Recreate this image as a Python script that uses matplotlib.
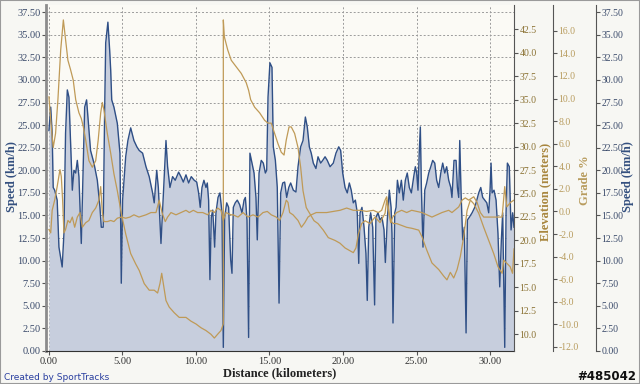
import numpy as np
import matplotlib
matplotlib.use('Agg')
import matplotlib.pyplot as plt
from matplotlib.patches import Rectangle

# speed (km/h) against distance (km)
speed_km = [0.00, 0.12, 0.22, 0.29, 0.39, 0.56, 0.68, 0.90, 1.02, 1.13, 1.25, 1.36, 1.47, 1.59, 1.70,
            1.82, 1.93, 2.04, 2.20, 2.34, 2.43, 2.56, 2.65, 2.83, 3.06, 3.29, 3.47, 3.56, 3.69, 3.79,
            3.86, 4.01, 4.13, 4.20, 4.27, 4.42, 4.65, 4.83, 4.92, 5.01, 5.22, 5.37, 5.56, 5.78, 5.98,
            6.14, 6.37, 6.60, 6.82, 7.05, 7.16, 7.33, 7.44, 7.62, 7.74, 7.85, 7.96, 8.07, 8.23, 8.41,
            8.59, 8.82, 8.98, 9.14, 9.32, 9.50, 9.68, 9.88, 10.05, 10.18, 10.29, 10.41, 10.54, 10.68,
            10.77, 10.86, 10.95, 11.04, 11.14, 11.27, 11.36, 11.50, 11.63, 11.77, 11.86, 11.95, 12.09,
            12.22, 12.36, 12.45, 12.54, 12.67, 12.81, 12.97, 13.13, 13.27, 13.36, 13.47, 13.58, 13.67,
            13.81, 13.95, 14.08, 14.17, 14.29, 14.44, 14.58, 14.72, 14.81, 14.90, 15.03, 15.17, 15.26,
            15.40, 15.53, 15.65, 15.76, 15.90, 16.03, 16.17, 16.31, 16.44, 16.62, 16.80, 16.94, 17.12,
            17.28, 17.44, 17.57, 17.71, 17.84, 17.98, 18.16, 18.30, 18.48, 18.62, 18.78, 18.93, 19.12,
            19.34, 19.52, 19.71, 19.84, 19.98, 20.14, 20.29, 20.43, 20.56, 20.70, 20.84, 20.97, 21.07,
            21.16, 21.29, 21.43, 21.56, 21.65, 21.75, 21.88, 22.02, 22.15, 22.24, 22.38, 22.52, 22.65,
            22.79, 22.88, 23.01, 23.15, 23.27, 23.33, 23.40, 23.52, 23.61, 23.70, 23.83, 23.97, 24.10,
            24.24, 24.37, 24.51, 24.65, 24.81, 24.92, 25.01, 25.10, 25.19, 25.26, 25.33, 25.44, 25.56,
            25.69, 25.83, 25.97, 26.10, 26.24, 26.37, 26.51, 26.65, 26.78, 26.92, 27.05, 27.19, 27.33,
            27.41, 27.55, 27.69, 27.78, 27.87, 27.94, 28.03, 28.14, 28.25, 28.37, 28.46, 28.59, 28.78,
            28.96, 29.10, 29.23, 29.37, 29.50, 29.64, 29.78, 29.91, 30.00, 30.07, 30.14, 30.27, 30.41,
            30.54, 30.66, 30.77, 30.86, 31.00, 31.09, 31.18, 31.31, 31.43, 31.54, 31.63]
speed = [24.4, 27.0, 24.1, 18.1, 17.8, 16.7, 11.5, 9.3, 13.0, 24.1, 28.9, 28.1, 23.3, 17.8, 20.0,
         19.7, 21.1, 19.3, 11.9, 21.1, 27.0, 27.8, 25.9, 22.2, 20.8, 18.9, 15.9, 13.7, 13.7, 26.7,
         34.1, 36.4, 33.3, 31.1, 27.8, 27.0, 25.2, 21.9, 7.5, 16.7, 21.5, 23.3, 24.7, 23.3, 22.6,
         22.2, 21.9, 20.4, 19.3, 17.5, 16.4, 20.0, 18.1, 11.9, 15.9, 19.7, 23.3, 20.4, 18.1, 19.3,
         18.9, 19.8, 19.3, 18.7, 19.5, 18.6, 19.3, 18.9, 18.7, 17.5, 15.9, 18.1, 18.9, 18.1,
         18.6, 16.7, 7.9, 14.8, 15.6, 11.5, 15.3, 17.0, 17.5, 15.3, 0.4, 14.8, 16.4,
         15.9, 10.1, 8.6, 15.9, 16.4, 16.7, 16.2, 15.3, 16.7, 17.0, 14.5, 1.5, 21.9,
         20.8, 19.7, 17.0, 12.3, 19.7, 21.1, 20.8, 19.7, 20.0, 28.1, 31.9, 31.4, 22.6,
         21.1, 18.1, 5.3, 17.5, 18.6, 18.7, 17.0, 18.1, 18.6, 17.8, 17.6, 20.4, 22.6,
         23.3, 25.9, 24.8, 22.6, 21.9, 20.8, 20.2, 21.5, 20.8, 21.1, 21.5, 21.1, 20.4,
         20.8, 21.9, 22.6, 22.2, 19.7, 18.1, 17.5, 18.6, 17.8, 16.4, 16.7, 15.3, 9.7,
         15.3, 15.9, 13.7, 10.8, 5.6, 13.7, 15.3, 13.7, 5.1, 14.8, 15.3, 14.5, 14.8,
         13.4, 9.8, 14.5, 17.8, 15.9, 13.0, 3.1, 15.3, 15.9, 18.9, 17.5, 18.9, 16.7,
         18.9, 19.7, 18.1, 17.5, 19.3, 20.4, 19.7, 17.8, 22.2, 24.8, 18.1, 11.5, 17.8,
         18.6, 19.7, 20.4, 21.1, 20.8, 18.9, 18.1, 19.7, 20.8, 19.7, 20.4, 18.9, 18.1,
         17.0, 21.1, 21.1, 18.1, 17.0, 23.3, 17.5, 12.3, 13.7, 2.0, 14.5, 14.8, 15.3,
         15.9, 16.7, 17.5, 18.1, 17.0, 16.7, 16.4, 15.3, 17.8, 20.8, 17.5, 17.8, 16.7,
         13.0, 7.1, 12.3, 15.3, 0.4, 15.3, 20.8, 20.4, 13.4, 15.3, 13.7]

# elevation (meters)
elev_km = [0.00, 0.16, 0.29, 0.45, 0.61, 0.80, 0.98, 1.13, 1.29, 1.47, 1.65, 1.82, 2.04, 2.20, 2.34,
           2.50, 2.72, 2.95, 3.18, 3.35, 3.52, 3.63, 3.74, 3.97, 4.20, 4.42, 4.65, 4.92, 5.22, 5.56,
           5.90, 6.14, 6.48, 6.82, 7.16, 7.39, 7.55, 7.67, 7.78, 7.96, 8.18, 8.52, 8.86, 9.32, 9.66,
           10.00, 10.34, 10.68, 11.02, 11.25, 11.47, 11.70, 11.86, 11.86, 11.93, 12.16, 12.40, 12.74,
           13.08, 13.42, 13.58, 13.72, 13.99, 14.33, 14.67, 14.90, 15.12, 15.35, 15.58, 15.80, 15.99,
           16.14, 16.33, 16.48, 16.71, 16.94, 17.12, 17.28, 17.50, 17.73, 18.03, 18.30, 18.66, 19.00,
           19.46, 19.80, 20.14, 20.48, 20.70, 20.88, 21.05, 21.27, 21.50, 21.84, 22.18, 22.52, 22.86,
           22.97, 23.08, 23.24, 23.42, 23.65, 23.99, 24.33, 24.67, 25.15, 25.37, 25.69, 26.05, 26.51,
           26.85, 27.07, 27.30, 27.53, 27.76, 27.98, 28.21, 28.44, 28.66, 28.90, 29.23, 29.57, 29.91,
           30.25, 30.54, 30.82, 30.93, 31.37, 31.53, 31.63]
elevation = [35.3, 32.1, 29.9, 31.4, 35.0, 40.3, 43.5, 41.4, 39.2, 38.2, 37.1, 35.0, 33.6, 33.0, 32.1,
             30.7, 28.5, 27.8, 28.5, 30.7, 33.6, 34.7, 33.9, 31.4, 29.3, 27.1, 25.3, 22.9, 20.7, 18.6,
             17.5, 16.8, 15.4, 14.7, 14.7, 14.4, 15.4, 16.5, 15.4, 13.6, 12.9, 12.3, 11.8, 11.8, 11.4,
             11.1, 10.7, 10.4, 10.0, 9.6, 10.0, 10.4, 11.1, 43.5, 41.7, 40.3, 39.2, 38.5,
             37.8, 36.8, 36.0, 35.0, 34.2, 33.6, 32.8, 32.5, 32.5, 31.4, 30.3, 29.4, 29.1,
             30.7, 32.1, 32.1, 31.4, 29.9, 27.8, 25.3, 23.5, 22.9, 22.1, 21.8, 21.1, 20.3,
             20.0, 19.7, 19.2, 18.9, 18.7, 19.2, 20.7, 21.8, 22.1, 21.8, 22.5, 21.9, 22.9,
             24.3, 23.2, 22.1, 21.8, 21.8, 21.6, 21.4, 21.3, 21.1, 20.4, 19.0, 17.6, 16.9,
             16.2, 15.8, 16.6, 16.0, 16.9, 18.3, 20.4, 23.2, 24.3, 23.9, 22.9, 21.4, 20.0,
             18.6, 17.2, 16.5, 17.9, 17.2, 16.5, 19.1]

# grade (%)
grade_km = [0.00, 0.12, 0.22, 0.39, 0.56, 0.75, 0.84, 0.93, 1.02, 1.13, 1.29, 1.43, 1.59, 1.75, 1.93,
            2.11, 2.27, 2.50, 2.72, 2.95, 3.18, 3.40, 3.52, 3.63, 3.74, 3.97, 4.20, 4.42, 4.65, 4.92,
            5.22, 5.51, 5.78, 6.12, 6.60, 6.94, 7.28, 7.50, 7.69, 7.91, 8.07, 8.30, 8.64, 8.98, 9.32,
            9.55, 9.82, 10.11, 10.46, 10.80, 11.02, 11.25, 11.47, 11.70, 11.86, 12.04, 12.38, 12.52,
            12.86, 13.20, 13.54, 13.88, 14.22, 14.56, 14.85, 15.12, 15.46, 15.69, 15.92, 16.14, 16.26,
            16.37, 16.60, 16.94, 17.17, 17.40, 17.62, 17.84, 18.18, 18.52, 18.89, 19.34, 19.80, 20.25,
            20.70, 21.16, 21.61, 22.06, 22.40, 22.63, 22.86, 22.97, 23.11, 23.24, 23.38, 23.65, 23.99,
            24.33, 24.67, 25.37, 26.05, 26.73, 27.19, 27.41, 27.87, 28.10, 28.32, 28.55, 28.89, 29.12,
            29.34, 29.57, 30.02, 30.48, 30.82, 31.00, 31.14, 31.39, 31.63]
grade = [-1.6, -1.9, 0.1, 1.0, 2.2, 3.7, 3.1, 1.0, -1.9, -1.6, -0.8, -1.0, -0.5, -1.4, -0.5,
         -0.1, -1.4, -1.0, -0.8, -0.1, 0.3, 1.0, 2.2, -0.1, -0.9, -0.9, -0.8, -0.9, -0.6, -0.5,
         -0.6, -0.5, -0.3, -0.5, -0.3, -0.1, -0.1, 1.0, -0.1, -0.9, -0.5, -0.1, -0.3, -0.1, 0.1,
         -0.1, 0.1, -0.1, -0.1, -0.3, 0.1, -0.1, 0.3, 0.1, -0.8, -0.1, -0.3, -0.3,
         -0.5, -0.1, -0.5, -0.3, -0.5, -0.1, 0.0, -0.3, -0.5, -0.8, -0.1, 1.0, 0.8,
         -0.1, -0.3, -0.8, -1.4, -1.0, -0.5, -0.3, -0.1, -0.1, -0.1, 0.0, 0.1, 0.3,
         0.1, 0.1, 0.0, 0.1, -0.1, 0.1, 1.0, 1.3, 0.1, -1.0, -0.5, -0.1, 0.1,
         -0.1, 0.1, -0.1, -0.5, -0.1, 0.1, -0.1, 0.4, 1.0, 1.2, 1.0, 1.3, 0.8,
         -0.1, -0.5, -0.5, -0.5, -0.5, 2.2, 0.4, 0.8, 1.0]

speed_ticks = np.arange(0, 37.51, 2.5)
elev_ticks = np.arange(10, 42.51, 2.5)
grade_ticks = np.arange(-12, 16.01, 2)
dist_ticks = np.arange(0, 30.01, 5)

blue = '#2f4f86'
fill = '#c7cedd'
tan = '#bf9a57'
serif = 'Liberation Serif'

fig = plt.figure(figsize=(6.4, 3.84), dpi=100, facecolor='#f7f7f3')
fig.patches.append(Rectangle((0, 0), 1, 1, transform=fig.transFigure, fill=False,
                             edgecolor='#9a9a9a', lw=1.5))

ax = fig.add_axes([46/640, 33/384, 468/640, 346/384])
ax.set_facecolor('#fbfaf5')
ax.fill_between(speed_km, speed, 0, color=fill, lw=0)
ax.plot(speed_km, speed, color=blue, lw=1.0)
ax.set_xlim(-0.2, 31.63)
ax.set_ylim(0, 38.3)
ax.set_xticks(dist_ticks)
ax.set_xticklabels(['%.2f' % t for t in dist_ticks], fontsize=7.5, family=serif, color='#333333')
ax.set_yticks(speed_ticks)
ax.set_yticklabels(['%.2f' % t for t in speed_ticks], fontsize=7.5, family=serif, color='#3a4a6a')
ax.grid(True, color='#9c9c9c', linestyle=(0, (2, 2)), lw=0.7)
ax.set_axisbelow(True)
ax.tick_params(length=3, width=0.8, pad=1, colors='#555555')
for t in ax.get_yticklabels():
    t.set_color('#3a4a6a')
for t in ax.get_xticklabels():
    t.set_color('#333333')
ax.spines['top'].set_visible(False)
ax.spines['left'].set_color('#8c8c8c')
ax.spines['left'].set_linewidth(2)
ax.spines['bottom'].set_color('#333333')
ax.spines['right'].set_visible(False)

# elevation axis
ax_e = ax.twinx()
ax_e.plot(elev_km, elevation, color=tan, lw=0.9)
ax_e.set_ylim(8.22, 45.09)
ax_e.set_yticks(elev_ticks)
ax_e.set_yticklabels(['%.1f' % t for t in elev_ticks], fontsize=7, family=serif)
ax_e.tick_params(length=3, width=0.8, pad=1, colors='#555555')
for t in ax_e.get_yticklabels():
    t.set_color('#8a7132')
for s in ['top', 'left', 'bottom']:
    ax_e.spines[s].set_visible(False)
ax_e.spines['right'].set_color('#555555')

# grade axis
ax_g = ax.twinx()
ax_g.spines['right'].set_position(('axes', 507/468))
ax_g.plot(grade_km, grade, color=tan, lw=0.9)
ax_g.set_ylim(-12.36, 18.28)
ax_g.set_yticks(grade_ticks)
ax_g.set_yticklabels(['%.1f' % t for t in grade_ticks], fontsize=7, family=serif)
ax_g.tick_params(length=3, width=0.8, pad=1, colors='#555555')
for t in ax_g.get_yticklabels():
    t.set_color('#b89c5e')
for s in ['top', 'left', 'bottom']:
    ax_g.spines[s].set_visible(False)
ax_g.spines['right'].set_color('#555555')

# speed again on the far right
ax_s = ax.twinx()
ax_s.spines['right'].set_position(('axes', 550/468))
ax_s.set_ylim(0, 38.3)
ax_s.set_yticks(speed_ticks)
ax_s.set_yticklabels(['%.2f' % t for t in speed_ticks], fontsize=7, family=serif)
ax_s.tick_params(length=3, width=0.8, pad=1, colors='#555555')
for t in ax_s.get_yticklabels():
    t.set_color('#3a4a6a')
for s in ['top', 'left', 'bottom']:
    ax_s.spines[s].set_visible(False)
ax_s.spines['right'].set_color('#555555')

fig.text(12/640, 1-177/384, 'Speed (km/h)', rotation=90, ha='center', va='center',
         fontsize=9, family=serif, weight='bold', color='#34507f')
fig.text(545/640, 1-192/384, 'Elevation (meters)', rotation=90, ha='center', va='center',
         fontsize=9, family=serif, weight='bold', color='#a8863e')
fig.text(585/640, 1-180/384, 'Grade %', rotation=90, ha='center', va='center',
         fontsize=9, family=serif, weight='bold', color='#b89c5e')
fig.text(628/640, 1-177/384, 'Speed (km/h)', rotation=90, ha='center', va='center',
         fontsize=9, family=serif, weight='bold', color='#34507f')
fig.text(280/640, 1-373/384, 'Distance (kilometers)', ha='center', va='center',
         fontsize=9, family=serif, weight='bold', color='#222222')
fig.text(4/640, 1-377/384, 'Created by SportTracks', ha='left', va='center',
         fontsize=6.5, family='DejaVu Sans', color='#2a3fa0')
fig.text(636/640, 1-377/384, '#485042', ha='right', va='center',
         fontsize=8.5, family='DejaVu Sans', weight='bold', color='#111111')

fig.savefig('out.png', dpi=100, facecolor=fig.get_facecolor())
